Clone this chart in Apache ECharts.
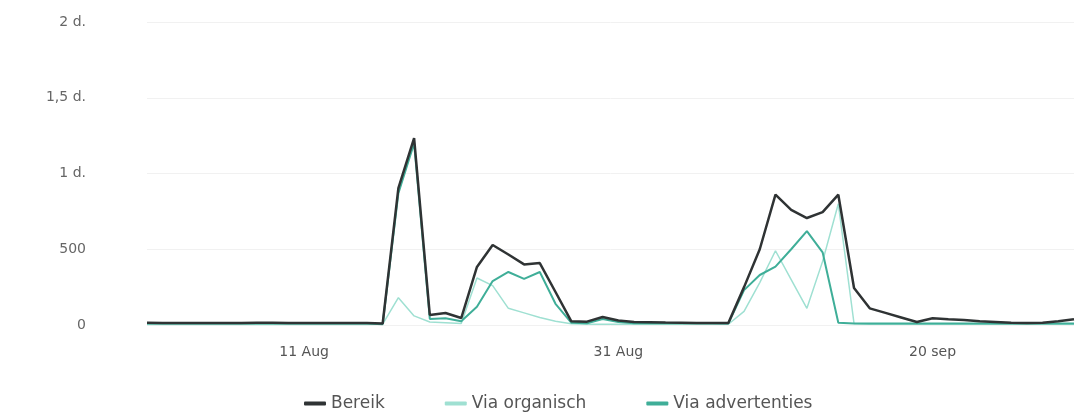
<!DOCTYPE html>
<html>
<head>
<meta charset="utf-8">
<script src="https://cdn.jsdelivr.net/npm/echarts@6/dist/echarts.min.js"></script>
<style>
html,body{margin:0;padding:0;background:#fff;}
#c{width:1080px;height:413px;}
</style>
</head>
<body>
<div id="c"></div>
<script>
var dates = ["1 Aug","2 Aug","3 Aug","4 Aug","5 Aug","6 Aug","7 Aug","8 Aug","9 Aug","10 Aug",
"11 Aug","12 Aug","13 Aug","14 Aug","15 Aug","16 Aug","17 Aug","18 Aug","19 Aug","20 Aug",
"21 Aug","22 Aug","23 Aug","24 Aug","25 Aug","26 Aug","27 Aug","28 Aug","29 Aug","30 Aug",
"31 Aug","1 sep","2 sep","3 sep","4 sep","5 sep","6 sep","7 sep","8 sep","9 sep",
"10 sep","11 sep","12 sep","13 sep","14 sep","15 sep","16 sep","17 sep","18 sep","19 sep",
"20 sep","21 sep","22 sep","23 sep","24 sep","25 sep","26 sep","27 sep","28 sep","29 sep"];

var bereik = [15,14,14,13,13,13,14,15,15,14,14,14,13,13,14,10,904,1234,66,79,
46,383,528,465,400,409,218,25,22,53,30,20,18,16,15,14,14,13,250,500,
860,760,706,745,860,244,110,80,50,20,45,38,33,25,20,15,14,15,25,38];

var organisch = [3,3,3,3,3,3,3,3,3,3,3,3,3,3,3,5,180,60,20,15,
10,310,260,110,80,50,25,8,5,5,5,5,5,5,5,5,5,5,90,280,
490,300,110,420,800,10,5,5,5,5,5,5,5,5,5,5,5,5,5,5];

var advertenties = [10,10,10,10,10,10,10,10,10,10,10,10,10,10,10,5,870,1200,40,45,
25,120,290,350,305,350,140,15,12,40,20,12,12,12,12,12,12,10,230,330,
385,500,620,480,15,10,10,10,10,10,10,10,10,10,10,10,10,10,10,10];

var yTicks = {0:"0",500:"500",1000:"1 d.",1500:"1,5 d.",2000:"2 d."};

var chart = echarts.init(document.getElementById('c'));
var font = "'DejaVu Sans', sans-serif";
chart.setOption({
  animation:false,
  grid:{left:147,right:6,top:22,bottom:88,containLabel:false},
  legend:{
    top:390,left:299,
    itemWidth:22,itemHeight:4,itemGap:60,
    icon:'roundRect',
    textStyle:{color:'#555',fontSize:17,fontFamily:font},
    data:['Bereik','Via organisch','Via advertenties']
  },
  xAxis:{
    type:'category',
    data:dates,
    boundaryGap:false,
    axisLine:{show:false},
    axisTick:{show:false},
    axisLabel:{
      interval:function(i){return i%20===10;},
      color:'#555',fontSize:14,fontFamily:font,margin:20
    },
    splitLine:{show:false}
  },
  yAxis:{
    type:'value',min:0,max:2000,interval:500,
    axisLine:{show:false},axisTick:{show:false},
    axisLabel:{
      color:'#666',fontSize:14,fontFamily:font,margin:61,
      formatter:function(v){return yTicks[v]!==undefined?yTicks[v]:v;}
    },
    splitLine:{lineStyle:{color:'#f1f1f1',width:1}}
  },
  series:[
    {name:'Bereik',type:'line',data:bereik,symbol:'none',z:5,
     lineStyle:{color:'#2f3334',width:2.5},itemStyle:{color:'#2f3334'}},
    {name:'Via organisch',type:'line',data:organisch,symbol:'none',z:3,
     lineStyle:{color:'#9fe0d2',width:1.5},itemStyle:{color:'#9fe0d2'}},
    {name:'Via advertenties',type:'line',data:advertenties,symbol:'none',z:4,
     lineStyle:{color:'#3fae98',width:2},itemStyle:{color:'#3fae98'}}
  ]
});
</script>
</body>
</html>
